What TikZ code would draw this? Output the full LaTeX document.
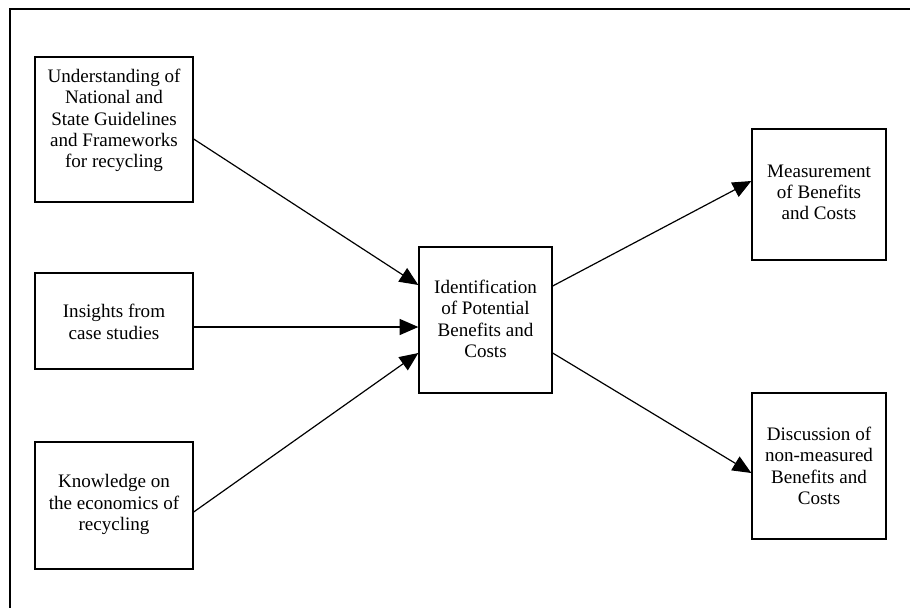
\documentclass[tikz,border=0pt]{standalone}
\usepackage{fontspec}
\setmainfont{Liberation Serif}
\usetikzlibrary{arrows.meta,calc}
\begin{document}
\begin{tikzpicture}[x=0.75pt,y=-0.75pt,
  box/.style={draw=black,line width=1pt,rectangle,inner sep=0pt,fill=white},
  txt/.style={align=center,inner sep=0pt,font=\fontsize{14.3}{16}\selectfont},
  conn/.style={draw=black,line width=0.9pt,-{Triangle[length=14pt,width=12pt]}},
  frame/.style={draw=black,line width=1.3pt}]
\useasboundingbox (0,0) rectangle (910,608);
\coordinate (fr1) at (910,9);
\coordinate (fr2) at (10,9);
\coordinate (fr3) at (10,608);
\draw[frame] (fr1) -- (fr2) -- (fr3);

\node[box,minimum width=158*0.75pt,minimum height=145*0.75pt] (u) at (114,129.5) {};
\node[box,minimum width=158*0.75pt,minimum height=96*0.75pt] (ins) at (114,321) {};
\node[box,minimum width=158*0.75pt,minimum height=127*0.75pt] (kn) at (114,505.5) {};
\node[box,minimum width=133*0.75pt,minimum height=146*0.75pt] (id) at (485.5,320) {};
\node[box,minimum width=134*0.75pt,minimum height=131*0.75pt] (me) at (819,194.5) {};
\node[box,minimum width=134*0.75pt,minimum height=146*0.75pt] (di) at (819,466) {};

\node[txt] (tu) at ($(u.center)+(0,-9)$) {Understanding of\\National and\\State Guidelines\\and Frameworks\\for recycling};
\node[txt] (tins) at ($(ins.center)+(0,1)$) {Insights from\\case studies};
\node[txt] (tkn) at ($(kn.center)+(0,-1)$) {Knowledge on\\the economics of\\recycling};
\node[txt] (tid) at ($(id.center)+(0,-1)$) {Identification\\of Potential\\Benefits and\\Costs};
\node[txt] (tme) at ($(me.center)+(0,-2)$) {Measurement\\of Benefits\\and Costs};
\node[txt] (tdi) at ($(di.center)+(0,0)$) {Discussion of\\non-measured\\Benefits and\\Costs};

\draw[conn] ($(u.east)+(0,9.5)$) -- ($(id.west)+(0,-35)$);
\draw[conn] ($(ins.east)+(0,6)$) -- ($(id.west)+(0,7)$);
\draw[conn] ($(kn.east)+(0,6.5)$) -- ($(id.west)+(0,33)$);
\draw[conn] ($(id.east)+(0,-34)$) -- ($(me.west)+(0,-13.5)$);
\draw[conn] ($(id.east)+(0,33)$) -- ($(di.west)+(0,7)$);
\end{tikzpicture}
\end{document}
